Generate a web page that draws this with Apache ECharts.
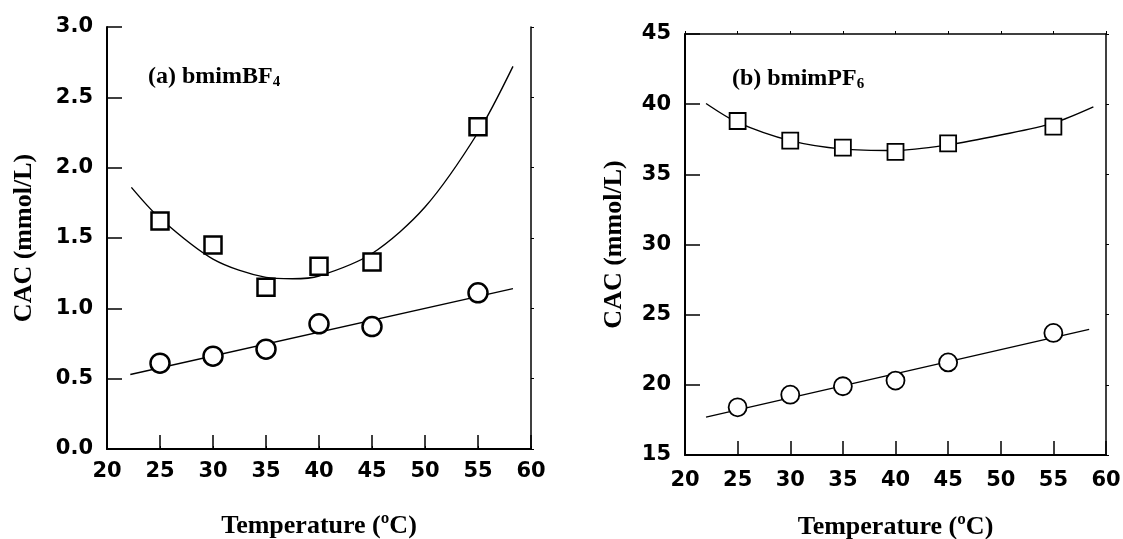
<!DOCTYPE html>
<html>
<head>
<meta charset="utf-8">
<script src="https://cdn.jsdelivr.net/npm/echarts@6/dist/echarts.min.js"></script>
<style>
  html, body { margin: 0; padding: 0; background: #fff; }
  #chart { width: 1123px; height: 539px; }
</style>
</head>
<body>
<div id="chart"></div>
<script>
// temperatures of the measured points (ºC)
const temps = [25, 30, 35, 40, 45, 55];

// (a) bmimBF4
const bf4Square = [1.62, 1.45, 1.15, 1.30, 1.33, 2.29];
const bf4Circle = [0.61, 0.66, 0.71, 0.89, 0.87, 1.11];
const bf4CurveX = [22.3, 25, 30, 35, 37.5, 40, 45, 50, 55, 58.3];
const bf4CurveY = [1.86, 1.64, 1.35, 1.22, 1.21, 1.23, 1.39, 1.72, 2.25, 2.72];
const bf4LineX = [22.2, 58.3];
const bf4LineY = [0.53, 1.14];

// (b) bmimPF6
const pf6Square = [38.8, 37.4, 36.9, 36.6, 37.2, 38.4];
const pf6Circle = [18.4, 19.3, 19.9, 20.3, 21.6, 23.7];
const pf6CurveX = [22.0, 25, 30, 35, 40, 45, 50, 55, 58.8];
const pf6CurveY = [40.05, 38.7, 37.4, 36.8, 36.7, 37.1, 37.8, 38.65, 39.8];
const pf6LineX = [22.0, 58.4];
const pf6LineY = [17.7, 23.95];

const xTicks = [20, 25, 30, 35, 40, 45, 50, 55, 60];

const zip = (xs, ys) => xs.map((x, i) => [x, ys[i]]);

const tickFont = { color: '#000', fontFamily: 'DejaVu Sans', fontWeight: 'bold', fontSize: 21 };
const nameFont = { color: '#000', fontFamily: 'Liberation Serif', fontWeight: 'bold', fontSize: 26 };
const black = { color: '#000', width: 2 };

function mainX(gridIndex, margin, nameGap) {
  return {
    type: 'value', gridIndex: gridIndex, min: 20, max: 60, interval: 5,
    name: 'Temperature (ºC)', nameLocation: 'middle', nameGap: nameGap, nameTextStyle: nameFont,
    axisLine: { lineStyle: black },
    axisTick: { inside: true, length: 14, lineStyle: { color: '#000', width: 1.5 } },
    axisLabel: Object.assign({ margin: margin, formatter: (v) => xTicks.includes(v) ? String(v) : '' }, tickFont),
    splitLine: { show: false }
  };
}

function sideX(gridIndex) {
  return {
    type: 'value', gridIndex: gridIndex, position: 'top', min: 20, max: 60, interval: 5,
    axisLine: { show: true, lineStyle: { color: '#000', width: 1.5 } },
    axisTick: { inside: false, length: 3, lineStyle: { color: '#000', width: 1 } },
    axisLabel: { show: false }, splitLine: { show: false }
  };
}

function mainY(gridIndex, min, max, interval, decimals, nameGap) {
  return {
    type: 'value', gridIndex: gridIndex, min: min, max: max, interval: interval,
    name: 'CAC (mmol/L)', nameLocation: 'middle', nameGap: nameGap, nameTextStyle: nameFont,
    axisLine: { lineStyle: black },
    axisTick: { inside: true, length: 15, lineStyle: { color: '#000', width: 1.5 } },
    axisLabel: Object.assign({ margin: 14, formatter: (v) => v.toFixed(decimals) }, tickFont),
    splitLine: { show: false }
  };
}

function sideY(gridIndex, min, max, interval) {
  return {
    type: 'value', gridIndex: gridIndex, position: 'right', min: min, max: max, interval: interval,
    axisLine: { show: true, lineStyle: { color: '#000', width: 1.5 } },
    axisTick: { inside: false, length: 3, lineStyle: { color: '#000', width: 1 } },
    axisLabel: { show: false }, splitLine: { show: false }
  };
}

function fitLine(xi, yi, data) {
  return {
    type: 'line', xAxisIndex: xi, yAxisIndex: yi, data: data, smooth: 0.3,
    showSymbol: false, symbol: 'none', silent: true, animation: false,
    lineStyle: { color: '#000', width: 1.4 }, z: 2
  };
}

function marks(xi, yi, ys, symbol, size, border) {
  return {
    type: 'scatter', xAxisIndex: xi, yAxisIndex: yi, data: zip(temps, ys),
    symbol: symbol, symbolSize: size, animation: false,
    itemStyle: { color: '#fff', borderColor: '#000', borderWidth: border, opacity: 1 }, z: 3
  };
}

const labelStyle = {
  color: '#000', fontFamily: 'Liberation Serif', fontWeight: 'bold', fontSize: 24,
  rich: { s: { fontFamily: 'Liberation Serif', fontWeight: 'bold', fontSize: 15, padding: [12, 0, 0, 0], color: '#000' } }
};

const chart = echarts.init(document.getElementById('chart'));
chart.setOption({
  backgroundColor: '#fff',
  animation: false,
  title: [
    { left: 143, top: 58, text: '(a) bmimBF{s|4}', textStyle: labelStyle },
    { left: 727, top: 60, text: '(b) bmimPF{s|6}', textStyle: labelStyle }
  ],
  grid: [
    { left: 107, top: 27, width: 424, height: 422, outerBoundsMode: 'none', containLabel: false },
    { left: 685, top: 34, width: 421, height: 421, outerBoundsMode: 'none', containLabel: false }
  ],
  xAxis: [mainX(0, 12, 64), mainX(1, 15, 59), sideX(0), sideX(1)],
  yAxis: [
    mainY(0, 0, 3, 0.5, 1, 70),
    mainY(1, 15, 45, 5, 0, 58),
    sideY(0, 0, 3, 0.5),
    sideY(1, 15, 45, 5)
  ],
  series: [
    fitLine(0, 0, zip(bf4CurveX, bf4CurveY)),
    fitLine(0, 0, zip(bf4LineX, bf4LineY)),
    marks(0, 0, bf4Square, 'rect', 17, 2.5),
    marks(0, 0, bf4Circle, 'circle', 19, 2.5),
    fitLine(1, 1, zip(pf6CurveX, pf6CurveY)),
    fitLine(1, 1, zip(pf6LineX, pf6LineY)),
    marks(1, 1, pf6Square, 'rect', 16, 1.8),
    marks(1, 1, pf6Circle, 'circle', 18, 1.8)
  ]
});
</script>
</body>
</html>
